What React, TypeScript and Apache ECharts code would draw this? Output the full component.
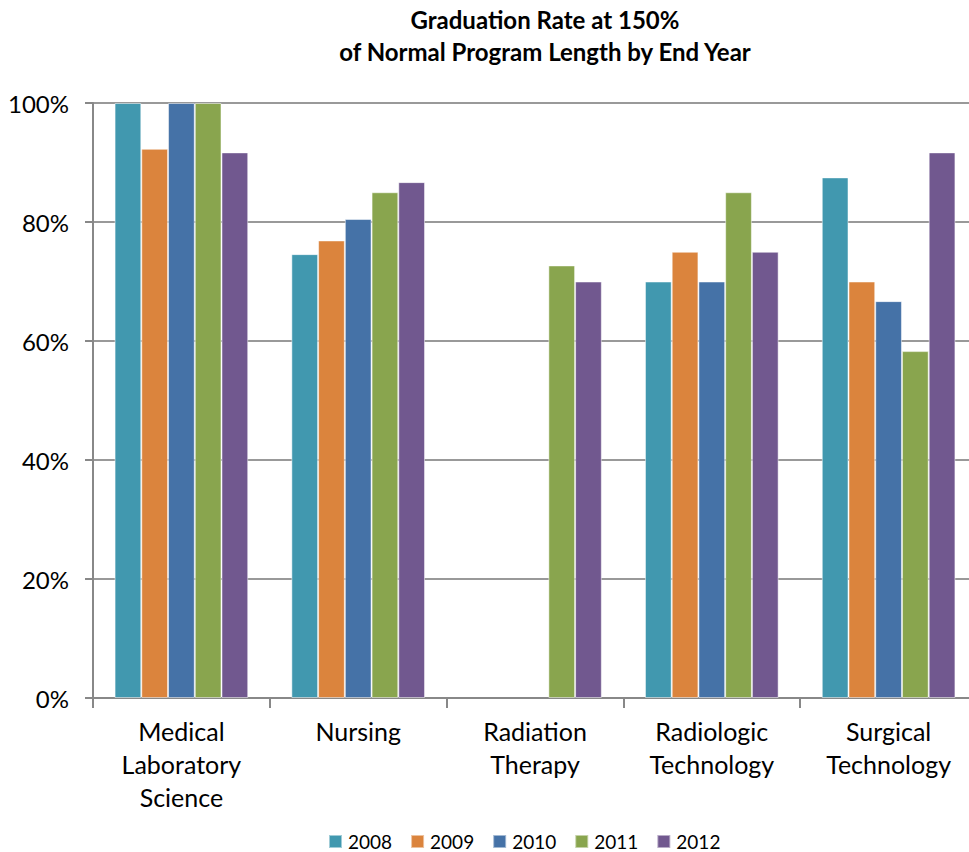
import React, { useEffect, useRef } from "react";
import * as echarts from "echarts";

const categories = [
  "Medical\nLaboratory\nScience",
  "Nursing",
  "Radiation\nTherapy",
  "Radiologic\nTechnology",
  "Surgical\nTechnology",
];
const years = ["2008", "2009", "2010", "2011", "2012"];
const v2008 = [100, 74.6, null, 70, 87.5];
const v2009 = [92.3, 76.9, null, 75, 70];
const v2010 = [100, 80.5, null, 70, 66.7];
const v2011 = [100, 85, 72.7, 85, 58.3];
const v2012 = [91.7, 86.7, 70, 75, 91.7];
const seriesValues = [v2008, v2009, v2010, v2011, v2012];
const colors = ["#4198AF", "#DB843D", "#4572A7", "#89A54E", "#71588F"];
const yTicks = [0, 20, 40, 60, 80, 100];

const FONT = "Lato, 'Open Sans', sans-serif";

export default function App() {
  const ref = useRef<HTMLDivElement>(null);
  useEffect(() => {
    if (!ref.current) return;
    const chart = echarts.init(ref.current, undefined, { renderer: "svg" });
    chart.setOption({
      animation: false,
      backgroundColor: "#ffffff",
      title: {
        text: "Graduation Rate at 150%\nof Normal Program Length by End Year",
        left: 545,
        top: 3,
        padding: 0,
        textAlign: "center",
        textStyle: {
          fontFamily: FONT,
          fontWeight: "bold",
          fontSize: 24,
          lineHeight: 32,
          color: "#000",
        },
      },
      legend: {
        data: years,
        left: 328,
        top: 832,
        padding: 0,
        itemWidth: 13,
        itemHeight: 13,
        itemGap: 18,
        icon: "rect",
        textStyle: { fontFamily: FONT, fontSize: 19, color: "#000", padding: [0, 0, 0, 1] },
      },
      grid: {
        left: 93,
        width: 884,
        top: 103,
        height: 595,
        containLabel: false,
        outerBoundsMode: "none",
      },
      xAxis: {
        type: "category",
        data: categories,
        axisLine: { lineStyle: { color: "#888", width: 2 } },
        axisTick: { show: true, length: 10, lineStyle: { color: "#888", width: 2 } },
        axisLabel: {
          fontFamily: FONT,
          fontSize: 25,
          lineHeight: 33,
          color: "#000",
          margin: 16,
        },
      },
      yAxis: {
        type: "value",
        min: 0,
        max: 100,
        interval: 20,
        axisLine: { show: true, lineStyle: { color: "#888", width: 2 } },
        axisTick: { show: true, length: 8, lineStyle: { color: "#888", width: 2 } },
        splitLine: { lineStyle: { color: "#999", width: 2 } },
        axisLabel: {
          fontFamily: FONT,
          fontSize: 24,
          color: "#000",
          margin: 24,
          formatter: (v: number) => (yTicks.includes(v) ? v + "%" : ""),
        },
      },
      series: years.map((y, i) => ({
        name: y,
        type: "bar",
        data: seriesValues[i],
        barGap: "0%",
        barCategoryGap: "24.4%",
        itemStyle: {
          color: colors[i],
          borderColor: "rgba(255,255,255,0.5)",
          borderWidth: 1,
        },
      })),
    });
    return () => chart.dispose();
  }, []);
  return (
    <div
      ref={ref}
      style={{ position: "absolute", left: 0, top: 0, width: 969, height: 852 }}
    />
  );
}
